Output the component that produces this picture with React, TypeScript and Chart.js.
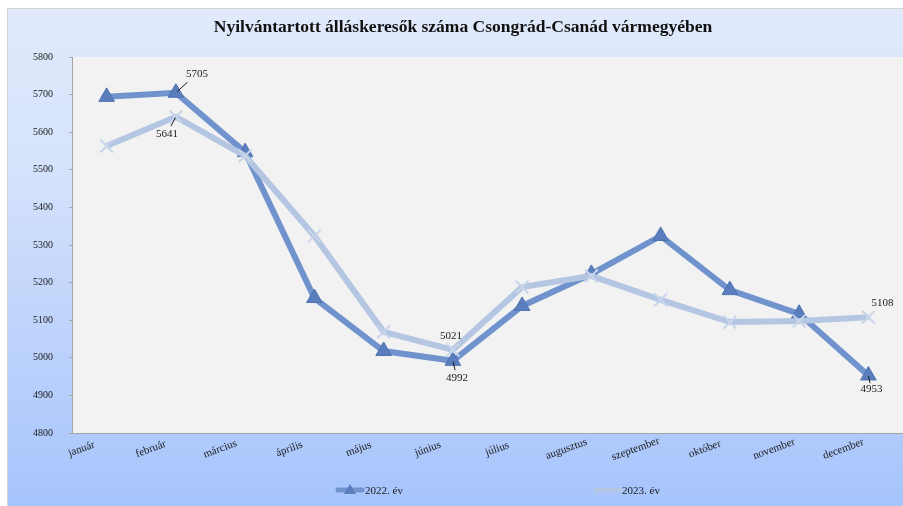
import React, { useEffect, useRef } from 'react';
import { Chart, registerables } from 'chart.js';

Chart.register(...registerables);

const TITLE = 'Nyilvántartott álláskeresők száma Csongrád-Csanád vármegyében';
const MONTHS = ['január', 'február', 'március', 'április', 'május', 'június', 'július', 'augusztus', 'szeptember', 'október', 'november', 'december'];
const LABEL_2022 = '2022. év';
const LABEL_2023 = '2023. év';
const VALUES_2022 = [5694, 5705, 5547, 5159, 5018, 4992, 5138, 5223, 5324, 5180, 5117, 4953];
const VALUES_2023 = [5563, 5641, 5537, 5324, 5069, 5021, 5188, 5218, 5154, 5095, 5098, 5108];
const Y_MIN = 4800;
const Y_MAX = 5800;
const Y_STEP = 100;
// indices of points that carry a value label
const LABELED_2022 = [1, 5, 11];
const LABELED_2023 = [1, 5, 11];

const SERIF = '"Liberation Serif", "Times New Roman", serif';
const COLOR_2022 = '#7093cd';
const COLOR_2023 = '#b4c6e2';

// label placement (style only): [dx, dy, leader]
const LABEL_POS_2022: Record<number, [number, number, boolean]> = {
  1: [21, -19, true],
  5: [4, 17, true],
  11: [3, 14, true],
};
const LABEL_POS_2023: Record<number, [number, number, boolean]> = {
  1: [-9, 17, true],
  5: [-2, -14, false],
  11: [14, -14, false],
};

const customPlugin = {
  id: 'custom',
  beforeDraw(chart: any) {
    const { ctx, chartArea } = chart;
    ctx.save();
    ctx.fillStyle = '#f2f2f2';
    ctx.fillRect(chartArea.left, chartArea.top, chartArea.right - chartArea.left, chartArea.bottom - chartArea.top);
    ctx.restore();
  },
  afterDatasetsDraw(chart: any) {
    const { ctx } = chart;
    ctx.save();
    ctx.font = `11px ${SERIF}`;
    ctx.fillStyle = '#1a1a1a';
    ctx.textAlign = 'center';
    ctx.textBaseline = 'middle';
    const draw = (dsIndex: number, indices: number[], values: number[], pos: Record<number, [number, number, boolean]>) => {
      const meta = chart.getDatasetMeta(dsIndex);
      indices.forEach((i) => {
        const el = meta.data[i];
        const [dx, dy, leader] = pos[i];
        const tx = el.x + dx;
        const ty = el.y + dy;
        if (leader) {
          ctx.strokeStyle = '#1a1a1a';
          ctx.lineWidth = 1;
          ctx.beginPath();
          const sx = tx - dx * 0.45;
          const sy = ty - dy * 0.45;
          ctx.moveTo(sx, sy);
          ctx.lineTo(el.x + dx * 0.05, el.y + dy * 0.05);
          ctx.stroke();
        }
        ctx.fillText(String(values[i]), tx, ty);
      });
    };
    draw(0, LABELED_2023, VALUES_2023, LABEL_POS_2023);
    draw(1, LABELED_2022, VALUES_2022, LABEL_POS_2022);
    ctx.restore();
  },
  afterDraw(chart: any) {
    const { ctx, chartArea } = chart;
    const xScale = chart.scales.x;
    ctx.save();
    // category labels, rotated and centred like the original
    ctx.font = `11px ${SERIF}`;
    ctx.fillStyle = '#1a1a1a';
    ctx.textAlign = 'center';
    ctx.textBaseline = 'middle';
    MONTHS.forEach((m, i) => {
      const x = xScale.getPixelForTick(i) - 25;
      const y = chartArea.bottom + 16;
      ctx.save();
      ctx.translate(x, y);
      ctx.rotate((-20 * Math.PI) / 180);
      ctx.fillText(m, 0, 0);
      ctx.restore();
    });
    // title
    ctx.font = `bold 17.5px ${SERIF}`;
    ctx.fillStyle = '#111';
    ctx.textAlign = 'center';
    ctx.textBaseline = 'middle';
    ctx.fillText(TITLE, 456, 19);
    // legend
    const ly = 482;
    ctx.lineCap = 'round';
    ctx.lineWidth = 5;
    ctx.strokeStyle = COLOR_2022;
    ctx.beginPath();
    ctx.moveTo(331, ly);
    ctx.lineTo(355, ly);
    ctx.stroke();
    ctx.fillStyle = '#5a7dbd';
    ctx.beginPath();
    ctx.moveTo(343, ly - 6);
    ctx.lineTo(349, ly + 4);
    ctx.lineTo(337, ly + 4);
    ctx.closePath();
    ctx.fill();
    ctx.strokeStyle = COLOR_2023;
    ctx.beginPath();
    ctx.moveTo(589, ly);
    ctx.lineTo(613, ly);
    ctx.stroke();
    ctx.font = `11px ${SERIF}`;
    ctx.fillStyle = '#1a1a1a';
    ctx.textAlign = 'left';
    ctx.fillText(LABEL_2022, 358, ly + 1);
    ctx.fillText(LABEL_2023, 615, ly + 1);
    ctx.restore();
  },
};

export default function App() {
  const ref = useRef<HTMLCanvasElement>(null);
  useEffect(() => {
    if (!ref.current) return;
    const chart = new Chart(ref.current, {
      type: 'line',
      data: {
        labels: MONTHS,
        datasets: [
          {
            label: LABEL_2023,
            data: VALUES_2023,
            order: 0,
            borderColor: COLOR_2023,
            borderWidth: 6,
            pointStyle: 'crossRot',
            pointRadius: 9,
            pointBorderColor: '#c8d5ea',
            pointBorderWidth: 2,
            pointBackgroundColor: '#c8d5ea',
            tension: 0,
          },
          {
            label: LABEL_2022,
            data: VALUES_2022,
            order: 1,
            borderColor: COLOR_2022,
            borderWidth: 6,
            pointStyle: 'triangle',
            pointRadius: 9,
            pointBackgroundColor: '#5a7dbd',
            pointBorderColor: '#4f72b0',
            pointBorderWidth: 1,
            tension: 0,
          },
        ],
      },
      options: {
        responsive: false,
        animation: false,
        layout: { autoPadding: false, padding: { top: 49, right: 0, left: 0, bottom: 0 } },
        plugins: {
          legend: { display: false },
          title: { display: false },
          tooltip: { enabled: false },
        },
        scales: {
          x: {
            offset: true,
            afterFit: (s: any) => {
              s.height = 73;
              s.paddingLeft = 0;
              s.paddingRight = 0;
            },
            grid: { display: false, drawTicks: false },
            border: { display: true, color: '#a6a6a6' },
            ticks: { display: false, autoSkip: false },
          },
          y: {
            min: Y_MIN,
            max: Y_MAX,
            afterFit: (s: any) => { s.width = 65; },
            grid: { drawOnChartArea: false, drawTicks: true, tickLength: 3, color: '#a6a6a6' },
            border: { display: true, color: '#a6a6a6' },
            ticks: {
              stepSize: Y_STEP,
              padding: 16,
              color: '#1a1a1a',
              font: { family: SERIF, size: 10 },
              callback: (v: any) => String(v),
            },
          },
        },
      },
      plugins: [customPlugin],
    });
    return () => chart.destroy();
  }, []);
  return (
    <div
      style={{
        position: 'fixed',
        left: 7,
        top: 8,
        width: 896,
        height: 498,
        background: 'linear-gradient(to bottom, #e0eafb 0%, #d6e3fb 30%, #a6c4fc 100%)',
        borderLeft: '1px solid #d4d4d4',
        borderTop: '1px solid #d4d4d4',
        boxSizing: 'border-box',
        overflow: 'hidden',
      }}
    >
      <canvas ref={ref} width={896} height={498} style={{ display: 'block', marginLeft: -1, marginTop: -1 }} />
    </div>
  );
}
